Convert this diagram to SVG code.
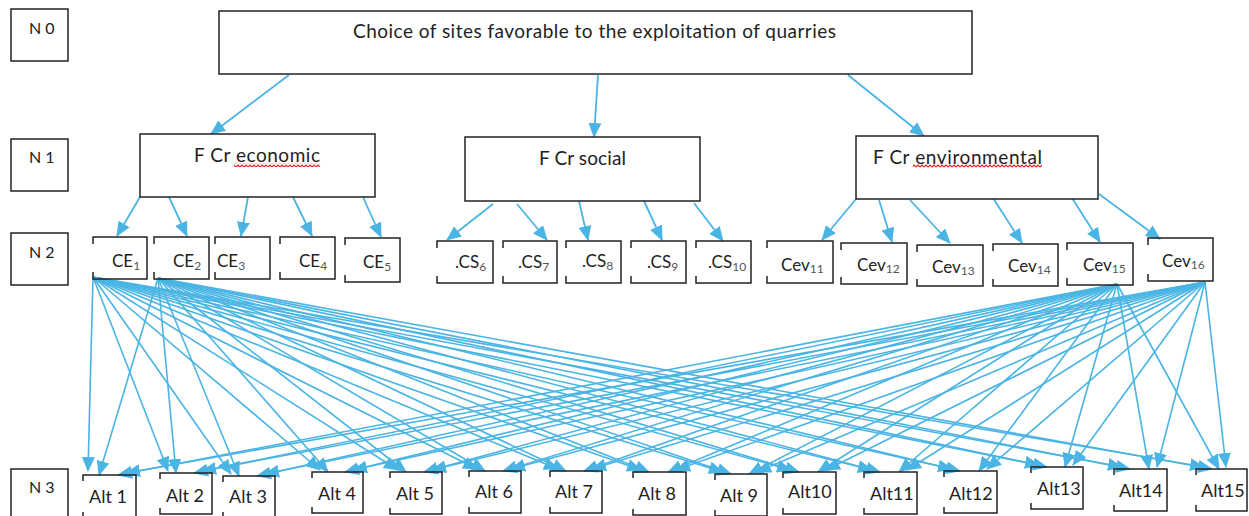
<svg xmlns="http://www.w3.org/2000/svg" width="1249" height="516" viewBox="0 0 1249 516">
<style>
.bx{fill:#fff;stroke:#222;stroke-width:1.5}
.br{fill:none;stroke:#222;stroke-width:1.5}
.t{font-family:Lato,"Liberation Sans",sans-serif;fill:#222}
.lv{font-size:16px}
.big{font-size:19px}
.n2{font-size:17px}
.al{font-size:18px}
.sub{font-size:12px;fill:#555}
.c{stroke:#4ab5e4;stroke-width:1.8;fill:none;marker-end:url(#ah)}
.m{stroke:#4ab5e4;stroke-width:1.6;fill:none;marker-end:url(#ah)}
</style>
<defs>
<marker id="ah" markerUnits="userSpaceOnUse" markerWidth="15" markerHeight="13" viewBox="0 0 15 13" refX="14" refY="6.5" orient="auto">
<path d="M0,0 L15,6.5 L0,13 Z" fill="#4ab5e4"/>
</marker>
<pattern id="sq" patternUnits="userSpaceOnUse" width="4" height="4">
<path d="M0,3 L2,1 L4,3" fill="none" stroke="#e02020" stroke-width="1.2"/>
</pattern>
</defs>
<rect width="1249" height="516" fill="#fff"/>

<g id="connectors">
<line class="c" x1="289" y1="75" x2="211" y2="134"/>
<line class="c" x1="598" y1="75" x2="594" y2="137"/>
<line class="c" x1="848" y1="75" x2="924" y2="136"/>
<line class="c" x1="140" y1="197" x2="117" y2="236"/>
<line class="c" x1="169" y1="197" x2="187" y2="236"/>
<line class="c" x1="248" y1="197" x2="241" y2="236"/>
<line class="c" x1="293" y1="197" x2="312" y2="236"/>
<line class="c" x1="363" y1="197" x2="381" y2="237"/>
<line class="c" x1="493" y1="204" x2="447" y2="240"/>
<line class="c" x1="517" y1="204" x2="547" y2="240"/>
<line class="c" x1="579" y1="201" x2="588" y2="240"/>
<line class="c" x1="644" y1="201" x2="662" y2="240"/>
<line class="c" x1="694" y1="203" x2="723" y2="241"/>
<line class="c" x1="856" y1="199" x2="822" y2="240"/>
<line class="c" x1="879" y1="200" x2="892" y2="242"/>
<line class="c" x1="910" y1="200" x2="950" y2="243"/>
<line class="c" x1="993" y1="198" x2="1022" y2="243"/>
<line class="c" x1="1072" y1="198" x2="1100" y2="242"/>
<line class="c" x1="1099" y1="194" x2="1160" y2="239"/>
<!-- CE1 -->
<g>
<line class="m" x1="93" y1="277" x2="88" y2="471"/>
<line class="m" x1="93" y1="277" x2="168" y2="471"/>
<line class="m" x1="93" y1="277" x2="231" y2="474"/>
<line class="m" x1="93" y1="277" x2="320" y2="470"/>
<line class="m" x1="93" y1="277" x2="398" y2="470"/>
<line class="m" x1="93" y1="277" x2="477" y2="469"/>
<line class="m" x1="93" y1="277" x2="558" y2="469"/>
<line class="m" x1="93" y1="277" x2="641" y2="470"/>
<line class="m" x1="93" y1="277" x2="723" y2="472"/>
<line class="m" x1="93" y1="277" x2="791" y2="470"/>
<line class="m" x1="93" y1="277" x2="872" y2="470"/>
<line class="m" x1="93" y1="277" x2="952" y2="469"/>
<line class="m" x1="93" y1="277" x2="1039" y2="465"/>
<line class="m" x1="93" y1="277" x2="1122" y2="467"/>
<line class="m" x1="93" y1="277" x2="1204" y2="467"/>
</g>
<!-- CE2 -->
<g>
<line class="m" x1="158" y1="278" x2="99" y2="475"/>
<line class="m" x1="158" y1="278" x2="176" y2="473"/>
<line class="m" x1="158" y1="278" x2="239" y2="476"/>
<line class="m" x1="158" y1="278" x2="328" y2="472"/>
<line class="m" x1="158" y1="278" x2="406" y2="472"/>
<line class="m" x1="158" y1="278" x2="485" y2="471"/>
<line class="m" x1="158" y1="278" x2="566" y2="471"/>
<line class="m" x1="158" y1="278" x2="649" y2="472"/>
<line class="m" x1="158" y1="278" x2="731" y2="474"/>
<line class="m" x1="158" y1="278" x2="799" y2="472"/>
<line class="m" x1="158" y1="278" x2="880" y2="472"/>
<line class="m" x1="158" y1="278" x2="960" y2="471"/>
<line class="m" x1="158" y1="278" x2="1047" y2="467"/>
<line class="m" x1="158" y1="278" x2="1130" y2="469"/>
<line class="m" x1="158" y1="278" x2="1212" y2="469"/>
</g>
<!-- Cev15 -->
<g>
<line class="m" x1="1117" y1="284" x2="118" y2="475"/>
<line class="m" x1="1117" y1="284" x2="194" y2="473"/>
<line class="m" x1="1117" y1="284" x2="257" y2="476"/>
<line class="m" x1="1117" y1="284" x2="345" y2="472"/>
<line class="m" x1="1117" y1="284" x2="424" y2="472"/>
<line class="m" x1="1117" y1="284" x2="503" y2="471"/>
<line class="m" x1="1117" y1="284" x2="584" y2="471"/>
<line class="m" x1="1117" y1="284" x2="668" y2="472"/>
<line class="m" x1="1117" y1="284" x2="749" y2="474"/>
<line class="m" x1="1117" y1="284" x2="818" y2="472"/>
<line class="m" x1="1117" y1="284" x2="899" y2="472"/>
<line class="m" x1="1117" y1="284" x2="979" y2="471"/>
<line class="m" x1="1117" y1="284" x2="1065" y2="467"/>
<line class="m" x1="1117" y1="284" x2="1149" y2="469"/>
<line class="m" x1="1117" y1="284" x2="1219" y2="469"/>
</g>
<!-- Cev16 -->
<g>
<line class="m" x1="1205" y1="282" x2="126" y2="473"/>
<line class="m" x1="1205" y1="282" x2="202" y2="471"/>
<line class="m" x1="1205" y1="282" x2="265" y2="474"/>
<line class="m" x1="1205" y1="282" x2="353" y2="470"/>
<line class="m" x1="1205" y1="282" x2="432" y2="470"/>
<line class="m" x1="1205" y1="282" x2="511" y2="469"/>
<line class="m" x1="1205" y1="282" x2="592" y2="469"/>
<line class="m" x1="1205" y1="282" x2="676" y2="470"/>
<line class="m" x1="1205" y1="282" x2="757" y2="472"/>
<line class="m" x1="1205" y1="282" x2="826" y2="470"/>
<line class="m" x1="1205" y1="282" x2="907" y2="470"/>
<line class="m" x1="1205" y1="282" x2="987" y2="469"/>
<line class="m" x1="1205" y1="282" x2="1073" y2="465"/>
<line class="m" x1="1205" y1="282" x2="1157" y2="467"/>
<line class="m" x1="1205" y1="282" x2="1226" y2="467"/>
</g>
</g>

<g id="level-labels">
<g id="N0"><rect class="bx" x="11" y="9" width="57" height="52"/><text class="t lv" x="29" y="34">N 0</text></g>
<g id="N1"><rect class="bx" x="11" y="139" width="57" height="52"/><text class="t lv" x="29" y="163">N 1</text></g>
<g id="N2"><rect class="bx" x="11" y="233" width="57" height="52"/><text class="t lv" x="29" y="258">N 2</text></g>
<g id="N3"><rect class="bx" x="11" y="469" width="57" height="52"/><text class="t lv" x="29" y="493">N 3</text></g>
</g>

<g id="goal"><rect class="bx" x="219" y="11" width="753" height="63"/><text class="t big" x="353" y="38" textLength="483">Choice of sites favorable to the exploitation of quarries</text></g>

<g id="economic"><rect class="bx" x="140" y="134" width="235" height="63"/><text class="t big" x="194" y="162" textLength="126">F Cr economic</text><rect x="234" y="163" width="86" height="4" fill="url(#sq)"/></g>
<g id="social"><rect class="bx" x="465" y="137" width="235" height="64"/><text class="t big" x="539" y="165" textLength="87">F Cr social</text></g>
<g id="environmental"><rect class="bx" x="856" y="136" width="242" height="63"/><text class="t big" x="873" y="164" textLength="169">F Cr environmental</text><rect x="913" y="164" width="129" height="4" fill="url(#sq)"/></g>

<g id="CE1"><path class="br" d="M93,244V237H147V279H93V272"/><text class="t n2" x="112" y="267">CE<tspan class="sub" dy="3">1</tspan></text></g>
<g id="CE2"><path class="br" d="M154,244V237H209V279H154V272"/><text class="t n2" x="173" y="267">CE<tspan class="sub" dy="3">2</tspan></text></g>
<g id="CE3"><path class="br" d="M215,244V237H270V279H215V272"/><text class="t n2" x="217" y="267">CE<tspan class="sub" dy="3">3</tspan></text></g>
<g id="CE4"><path class="br" d="M280,244V237H335V279H280V272"/><text class="t n2" x="299" y="267">CE<tspan class="sub" dy="3">4</tspan></text></g>
<g id="CE5"><path class="br" d="M345,245V238H400V282H345V275"/><text class="t n2" x="363" y="268">CE<tspan class="sub" dy="3">5</tspan></text></g>

<g id="CS6"><path class="br" d="M437,248V241H493V283H437V276"/><text class="t n2" x="455" y="268">.CS<tspan class="sub" dy="3">6</tspan></text></g>
<g id="CS7"><path class="br" d="M503,248V241H557V283H503V276"/><text class="t n2" x="518" y="268">.CS<tspan class="sub" dy="3">7</tspan></text></g>
<g id="CS8"><path class="br" d="M566,248V241H621V283H566V276"/><text class="t n2" x="582" y="267">.CS<tspan class="sub" dy="3">8</tspan></text></g>
<g id="CS9"><path class="br" d="M631,248V241H686V283H631V276"/><text class="t n2" x="647" y="268">.CS<tspan class="sub" dy="3">9</tspan></text></g>
<g id="CS10"><path class="br" d="M696,248V241H751V283H696V276"/><text class="t n2" x="708" y="268">.CS<tspan class="sub" dy="3">10</tspan></text></g>

<g id="Cev11"><path class="br" d="M767,248V241H833V283H767V276"/><text class="t n2" x="781" y="271">Cev<tspan class="sub" dy="2">11</tspan></text></g>
<g id="Cev12"><path class="br" d="M841,250V243H907V284H841V277"/><text class="t n2" x="857" y="271">Cev<tspan class="sub" dy="2">12</tspan></text></g>
<g id="Cev13"><path class="br" d="M917,252V245H983V286H917V279"/><text class="t n2" x="932" y="273">Cev<tspan class="sub" dy="2">13</tspan></text></g>
<g id="Cev14"><path class="br" d="M993,251V244H1058V286H993V279"/><text class="t n2" x="1008" y="272">Cev<tspan class="sub" dy="2">14</tspan></text></g>
<g id="Cev15"><path class="br" d="M1067,250V243H1133V285H1067V278"/><text class="t n2" x="1083" y="271">Cev<tspan class="sub" dy="2">15</tspan></text></g>
<g id="Cev16"><path class="br" d="M1148,245V238H1213V281H1148V274"/><text class="t n2" x="1162" y="267">Cev<tspan class="sub" dy="2">16</tspan></text></g>

<g id="Alt1"><path class="br" d="M83,481V475H136V518H83V512"/><text class="t al" x="89" y="503">Alt 1</text></g>
<g id="Alt2"><path class="br" d="M160,479V473H212V514H160V508"/><text class="t al" x="166" y="502">Alt 2</text></g>
<g id="Alt3"><path class="br" d="M223,482V476H275V518H223V512"/><text class="t al" x="229" y="503">Alt 3</text></g>
<g id="Alt4"><path class="br" d="M312,478V472H363V513H312V507"/><text class="t al" x="318" y="500">Alt 4</text></g>
<g id="Alt5"><path class="br" d="M390,478V472H442V514H390V508"/><text class="t al" x="396" y="500">Alt 5</text></g>
<g id="Alt6"><path class="br" d="M469,477V471H521V513H469V507"/><text class="t al" x="475" y="498">Alt 6</text></g>
<g id="Alt7"><path class="br" d="M550,477V471H602V513H550V507"/><text class="t al" x="555" y="498">Alt 7</text></g>
<g id="Alt8"><path class="br" d="M633,478V472H686V515H633V509"/><text class="t al" x="638" y="500">Alt 8</text></g>
<g id="Alt9"><path class="br" d="M715,480V474H767V516H715V510"/><text class="t al" x="720" y="502">Alt 9</text></g>
<g id="Alt10"><path class="br" d="M783,478V472H836V514H783V508"/><text class="t al" x="788" y="498">Alt10</text></g>
<g id="Alt11"><path class="br" d="M864,478V472H917V514H864V508"/><text class="t al" x="870" y="500">Alt11</text></g>
<g id="Alt12"><path class="br" d="M944,477V471H997V513H944V507"/><text class="t al" x="949" y="500">Alt12</text></g>
<g id="Alt13"><path class="br" d="M1031,473V467H1083V509H1031V503"/><text class="t al" x="1037" y="495">Alt13</text></g>
<g id="Alt14"><path class="br" d="M1114,475V469H1167V511H1114V505"/><text class="t al" x="1119" y="497">Alt14</text></g>
<g id="Alt15"><path class="br" d="M1196,475V469H1247V511H1196V505"/><text class="t al" x="1201" y="497">Alt15</text></g>
</svg>
